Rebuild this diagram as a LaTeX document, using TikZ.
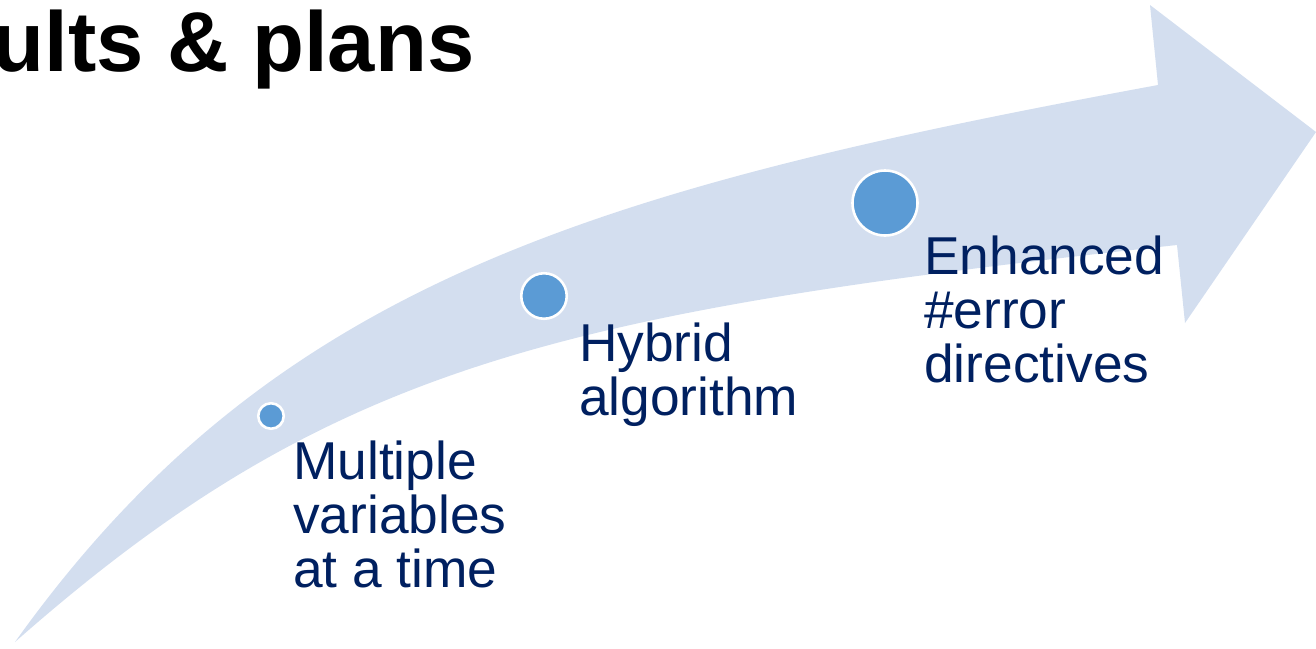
\documentclass[tikz,border=0pt]{standalone}
\usepackage{fontspec}
\setmainfont{Liberation Sans}
\definecolor{bandblue}{HTML}{D3DEEF}
\definecolor{dotblue}{HTML}{5B9BD5}
\definecolor{navy}{HTML}{002060}
\begin{document}
\begin{tikzpicture}[x=1pt, y=-1pt,
  band/.style={fill=bandblue},
  milestone/.style={circle, fill=dotblue, draw=white, line width=2.6pt, inner sep=0pt},
  label/.style={text=navy, align=left, anchor=base west, inner sep=0pt,
    font=\fontsize{53.3}{53.8}\selectfont},
  heading/.style={text=black, anchor=base east, inner sep=0pt,
    font=\fontsize{85}{90}\selectfont\bfseries}]
  \useasboundingbox (0,0) rectangle (1316,648);

  % curved progress arrow
  \fill[band] (15,642) .. controls (270,285) and (588,190) .. (1158,85)
    -- (1150,5) -- (1316,132) -- (1185,323) -- (1177,245)
    .. controls (559.5,312.5) and (329.5,364.5) .. (15,642) -- cycle;

  % heading
  \node[heading] (title) at (474.6,71) {ults \& plans};

  % milestones along the arrow
  \node[milestone, minimum size=25.5pt] (m1) at (271,416) {};
  \node[milestone, minimum size=45.5pt] (m2) at (544,296) {};
  \node[milestone, minimum size=65pt]   (m3) at (885,203) {};

  % milestone descriptions (anchored on the baseline of the last line)
  \node[label] (t1) at (293,587) {Multiple\\variables\\at a time};
  \node[label] (t2) at (579,415.5) {Hybrid\\algorithm};
  \node[label] (t3) at (924,382) {Enhanced\\\#error\\directives};
\end{tikzpicture}
\end{document}
